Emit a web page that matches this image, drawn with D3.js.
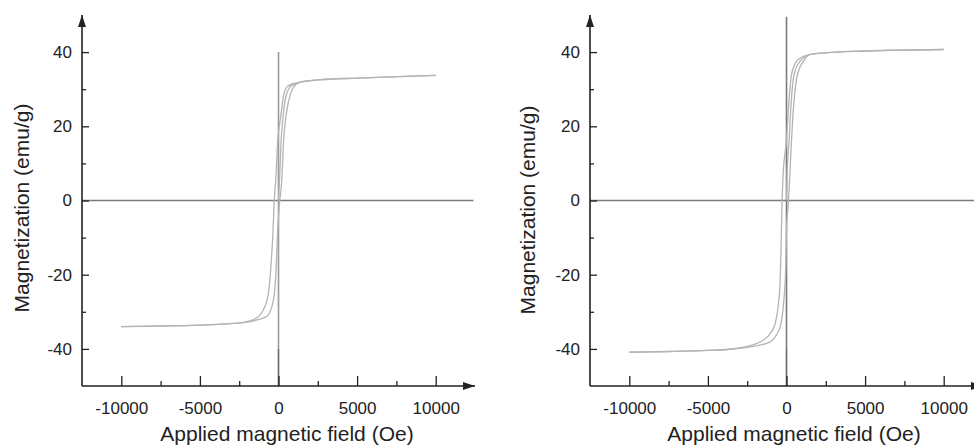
<!DOCTYPE html>
<html>
<head>
<meta charset="utf-8">
<script src="https://cdn.jsdelivr.net/npm/d3@7"></script>
<style>
  body { margin: 0; background: #fff; }
  svg text { font-family: "Liberation Sans", Arial, Helvetica, sans-serif; fill: #222; }
</style>
</head>
<body>
<div id="chart"></div>
<script>
// tick values
var xMajorTicks = [-10000, -5000, 0, 5000, 10000];
var xMinorTicks = [-7500, -2500, 2500, 7500];
var yMajorTicks = [-40, -20, 0, 20, 40];
var yMinorTicks = [-30, -10, 10, 30];

var xTitle = "Applied magnetic field (Oe)";
var yTitle = "Magnetization (emu/g)";

// left sample: [field (Oe), magnetization (emu/g)]
var leftDescending = [[-10000, -34.0], [-7500, -33.8], [-5000, -33.6], [-2420, -33.0], [-1370, -31.6], [-735, -27.0],
  [-480, -17.7], [-355, -8.7], [-270, 0], [-160, 6.5], [-60, 15.5], [120, 22.0], [230, 25.5], [330, 28.5],
  [570, 30.8], [1400, 31.9], [2500, 32.5], [5000, 33.0], [7500, 33.4], [10000, 33.7]];
var leftAscending = [[-10000, -34.0], [-5000, -33.6], [-2420, -33.0], [-1370, -32.2], [-735, -31.2], [-316, -26.7],
  [-145, -17.7], [-60, -8.7], [60, -1.0], [215, 6.0], [316, 15.5], [520, 24.0], [785, 29.0], [1000, 30.8],
  [1400, 31.9], [2500, 32.5], [5000, 33.0], [10000, 33.7]];
var leftInitial = [[0, 0], [80, 7.0], [160, 15.5], [300, 23.0], [500, 28.5], [785, 30.8], [1400, 31.9]];

// right sample
var rightDescending = [[-10000, -40.9], [-7500, -40.7], [-5000, -40.4], [-3600, -40.1], [-1920, -38.6], [-865, -34.8],
  [-460, -25.7], [-370, -16.7], [-320, -7.7], [-280, 0], [-210, 7.2], [0, 16.3], [130, 25.3], [335, 34.3],
  [715, 37.9], [1456, 39.3], [2500, 39.8], [5000, 40.3], [7500, 40.5], [10000, 40.7]];
var rightAscending = [[-10000, -40.9], [-5000, -40.4], [-3600, -40.1], [-1180, -38.4], [-460, -34.8], [-145, -25.7],
  [-40, -16.7], [0, -7.7], [130, 0], [215, 7.2], [320, 16.3], [450, 25.3], [715, 34.3], [1140, 37.9],
  [1456, 39.3], [2500, 39.8], [5000, 40.3], [10000, 40.7]];
var rightInitial = [[0, 0], [40, 7.2], [170, 16.3], [280, 25.3], [500, 34.3], [930, 37.9], [1456, 39.3]];

var width = 974, height = 447;

var svg = d3.select("#chart").append("svg")
  .attr("width", width)
  .attr("height", height);

svg.append("defs").append("marker")
  .attr("id", "arrow")
  .attr("viewBox", "0 0 12 8")
  .attr("refX", 12).attr("refY", 4)
  .attr("markerWidth", 12).attr("markerHeight", 8)
  .attr("markerUnits", "userSpaceOnUse")
  .attr("orient", "auto")
  .append("path")
  .attr("d", "M0,0L12,4L0,8Z")
  .attr("fill", "#222");

function drawPanel(opts) {
  var x = d3.scaleLinear().domain([-12500, 12500]).range([opts.left, opts.left + 393]);
  var y = d3.scaleLinear().domain([-50, 50]).range([386, 15]);
  var g = svg.append("g");

  // zero lines
  g.append("line")
    .attr("x1", x(-12500)).attr("x2", x(opts.hEnd))
    .attr("y1", y(0)).attr("y2", y(0))
    .attr("stroke", "#7a7a7a").attr("stroke-width", 1.6);
  g.append("line")
    .attr("x1", x(0)).attr("x2", x(0))
    .attr("y1", y(opts.vTop)).attr("y2", y(-40))
    .attr("stroke", opts.vColor).attr("stroke-width", 1.6);
  g.append("line")
    .attr("x1", x(0)).attr("x2", x(0))
    .attr("y1", y(-40)).attr("y2", y(-50))
    .attr("stroke", "#666").attr("stroke-width", 1.6);

  // loop branches
  var line = d3.line()
    .x(function (d) { return x(d[0]); })
    .y(function (d) { return y(d[1]); })
    .curve(d3.curveMonotoneX);
  opts.curves.forEach(function (c) {
    g.append("path")
      .attr("d", line(c))
      .attr("fill", "none")
      .attr("stroke", "#b4b4b4")
      .attr("stroke-width", 1.3);
  });

  // x axis
  var xAxis = g.append("g").attr("transform", "translate(0," + y(-50) + ")");
  xAxis.call(d3.axisBottom(x).tickValues(xMajorTicks).tickSize(-10).tickPadding(16)
    .tickFormat(function (v) { return v; }));
  xAxis.append("g").call(d3.axisBottom(x).tickValues(xMinorTicks).tickSize(-5).tickFormat(""));
  xAxis.selectAll(".domain").remove();
  xAxis.selectAll(".tick line").attr("stroke", "#222").attr("stroke-width", 1.3);
  xAxis.selectAll(".tick text").style("font-size", "17px")
    .style("font-family", "'Liberation Sans', Arial, sans-serif").attr("fill", "#222");
  g.append("line")
    .attr("x1", x(-12500)).attr("x2", x(12500))
    .attr("y1", y(-50)).attr("y2", y(-50))
    .attr("stroke", "#222").attr("stroke-width", 1.6)
    .attr("marker-end", "url(#arrow)");

  // y axis
  var yAxis = g.append("g").attr("transform", "translate(" + x(-12500) + ",0)");
  yAxis.call(d3.axisLeft(y).tickValues(yMajorTicks).tickSize(-7).tickPadding(10)
    .tickFormat(function (v) { return v; }));
  yAxis.append("g").call(d3.axisLeft(y).tickValues(yMinorTicks).tickSize(-4).tickFormat(""));
  yAxis.selectAll(".domain").remove();
  yAxis.selectAll(".tick line").attr("stroke", "#222").attr("stroke-width", 1.3);
  yAxis.selectAll(".tick text").style("font-size", "17px")
    .style("font-family", "'Liberation Sans', Arial, sans-serif").attr("fill", "#222");
  g.append("line")
    .attr("x1", x(-12500)).attr("x2", x(-12500))
    .attr("y1", y(-50)).attr("y2", y(50))
    .attr("stroke", "#222").attr("stroke-width", 1.6)
    .attr("marker-end", "url(#arrow)");

  // titles
  g.append("text")
    .attr("x", opts.xTitleX).attr("y", 441)
    .attr("text-anchor", "middle")
    .style("font-size", "21px")
    .text(xTitle);
  g.append("text")
    .attr("transform", "translate(" + opts.yTitleX + "," + opts.yTitleY + ") rotate(-90)")
    .attr("text-anchor", "middle")
    .style("font-size", "21px")
    .text(yTitle);
}

drawPanel({
  left: 82, hEnd: 12400, vTop: 40, vColor: "#9a9a9a",
  curves: [leftDescending, leftAscending, leftInitial],
  xTitleX: 287, yTitleX: 29, yTitleY: 208
});
drawPanel({
  left: 590, hEnd: 12500, vTop: 49.5, vColor: "#7a7a7a",
  curves: [rightDescending, rightAscending, rightInitial],
  xTitleX: 794, yTitleX: 535, yTitleY: 210
});
</script>
</body>
</html>
